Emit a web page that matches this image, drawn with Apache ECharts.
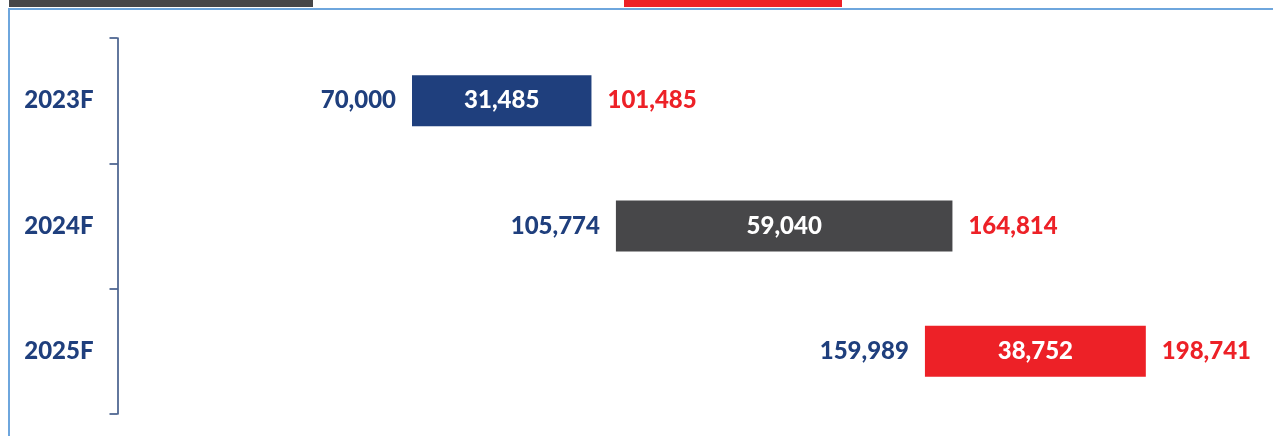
<!DOCTYPE html>
<html>
<head>
<meta charset="utf-8">
<script src="https://cdn.jsdelivr.net/npm/echarts@6/dist/echarts.min.js"></script>
<style>
  html, body { margin: 0; padding: 0; background: #fff; }
  #main { width: 1273px; height: 436px; }
</style>
</head>
<body>
<div id="main"></div>
<script>
// data
var years = ['2023F', '2024F', '2025F'];
var startValues = [70000, 105774, 159989];
var increments = [31485, 59040, 38752];
var endValues = [101485, 164814, 198741];
var barColors = ['#1f3f7d', '#474749', '#ed2127'];

var navy = '#1f3f7d';
var red = '#ed2127';
var font = 'Lato, "Open Sans", sans-serif';

function fmt(v) {
  return Number(v).toLocaleString('en-US');
}

var chart = echarts.init(document.getElementById('main'));

chart.setOption({
  animation: false,
  backgroundColor: '#fff',
  textStyle: { fontFamily: font },
  // bits of the frame / neighbouring chart that are cut off at the top
  graphic: [
    { type: 'rect', shape: { x: 9, y: 0, width: 304, height: 7 }, style: { fill: '#474749' } },
    { type: 'rect', shape: { x: 624, y: 0, width: 218, height: 7 }, style: { fill: '#ed2127' } },
    { type: 'rect', shape: { x: 9, y: 9, width: 1300, height: 500 },
      style: { fill: 'none', stroke: '#6ea6dd', lineWidth: 2 } }
  ],
  grid: { left: 13, right: 6, top: 38, bottom: 22, containLabel: false },
  xAxis: {
    type: 'value',
    min: 0,
    max: 220000,
    show: false
  },
  yAxis: {
    type: 'category',
    data: years,
    inverse: true,
    offset: -104.5,
    axisLine: { lineStyle: { color: '#2e4a7d', width: 1.5 } },
    axisTick: { show: true, length: 8, lineStyle: { color: '#2e4a7d', width: 1.5 } },
    axisLabel: { margin: 24, color: navy, fontSize: 24, fontWeight: 900, fontFamily: font },
    splitLine: { show: false }
  },
  series: [
    {
      name: 'start',
      type: 'bar',
      stack: 'w',
      barWidth: 51,
      data: startValues,
      itemStyle: { color: 'rgba(0,0,0,0)' },
      label: {
        show: true,
        position: 'insideRight',
        distance: 16,
        color: navy,
        fontSize: 24,
        fontWeight: 900,
        fontFamily: font,
        formatter: function (p) { return fmt(p.value); }
      },
      silent: true
    },
    {
      name: 'change',
      type: 'bar',
      stack: 'w',
      barWidth: 51,
      data: increments.map(function (v, i) {
        return { value: v, itemStyle: { color: barColors[i] } };
      }),
      label: {
        show: true,
        position: 'inside',
        color: '#fff',
        fontSize: 24,
        fontWeight: 900,
        fontFamily: font,
        formatter: function (p) { return fmt(p.value); }
      }
    },
    {
      name: 'end',
      type: 'scatter',
      symbolSize: 0,
      itemStyle: { color: red, opacity: 1 },
      data: endValues.map(function (v, i) { return [v, i]; }),
      label: {
        show: true,
        position: 'right',
        distance: 16,
        color: red,
        opacity: 1,
        fontSize: 24,
        fontWeight: 900,
        fontFamily: font,
        formatter: function (p) { return fmt(p.value[0]); }
      }
    }
  ]
});
</script>
</body>
</html>
